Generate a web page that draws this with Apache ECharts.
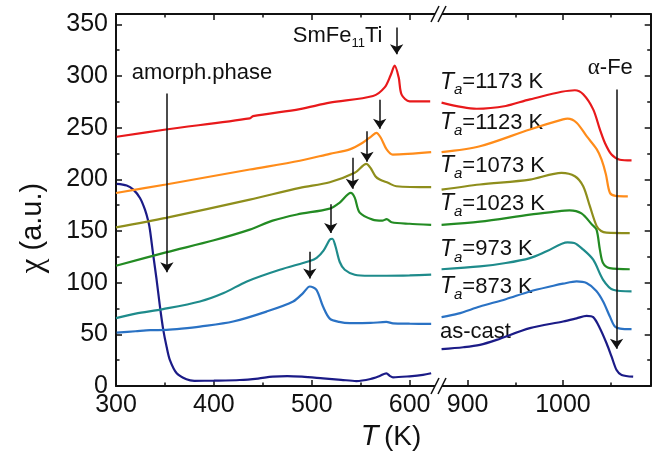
<!DOCTYPE html>
<html>
<head>
<meta charset="utf-8">
<script src="https://cdn.jsdelivr.net/npm/echarts@6/dist/echarts.min.js"></script>
<style>
  html, body { margin: 0; padding: 0; background: #fff; }
  #chart { width: 659px; height: 457px; }
</style>
</head>
<body>
<div id="chart"></div>
<script>
// Broken temperature axis: a low-T panel and a high-T panel (K)
const lowRange = [300, 630];
const highRange = [870, 1092];
const chiRange = [0, 360];

// Tick positions
const lowMajorTicks = [300, 400, 500, 600];
const lowMinorTicks = [350, 450, 550];
const highMajorTicks = [900, 1000];
const highMinorTicks = [950, 1050];
const chiMajorTicks = [0, 50, 100, 150, 200, 250, 300, 350];
const chiMinorTicks = [25, 75, 125, 175, 225, 275, 325];

// Susceptibility curves [T (K), chi (a.u.)], low-T and high-T parts
const asCastLow = [[300.7,195.6],[310.9,194],[317.7,190],[324.5,182],[329.6,170.7],[333,159.4],[334.7,151],[338,127],[341.5,102.8],[344.9,76.9],[348.3,54.3],[351.7,38],[355.1,25],[362,12.3],[372,6.5],[380,5],[400,5.2],[426.5,5.8],[445,7.2],[460,9],[475,9.6],[490,9],[511.5,7.4],[530,6],[545.6,4.8],[560,6.8],[569.4,9.7],[576.2,12.3],[580,9.6],[583,8.4],[600,9.4],[613.6,10.7],[622,12.3]];
const asCastHigh = [[872.7,35.6],[895.4,37.5],[912.9,39.8],[930.4,44.6],[965.3,56],[1000.2,62.4],[1014.3,65.5],[1024.7,67.9],[1031.7,66.6],[1038.7,56],[1045.7,41.4],[1051,28.4],[1056.2,15.5],[1061.5,10.7],[1073.6,9]];

const t873Low = [[300.7,51.7],[320,53],[335,54],[351.7,54.3],[367,55.5],[385.7,57.5],[419.7,62.4],[453.7,72],[481,81.8],[491.1,89.9],[498,96.3],[504.8,93.1],[511.5,76.9],[518.4,65.2],[528,62],[538.8,60.8],[560,61],[576.2,62],[583,60.6],[600,60.3],[622,60.1]];
const t873High = [[872.7,66.6],[890,70],[912.9,76.9],[940,84],[965.3,91.5],[990,97],[1000,99],[1014.3,101.2],[1024.7,99.6],[1035,92],[1042.1,81.8],[1049.2,67.2],[1054.4,57.5],[1060,55.5],[1071.9,55]];

const t973Low = [[300,65.7],[320,70],[348,74.4],[385.7,81.8],[410,90],[433.7,101.2],[467.3,112.5],[498,121],[505,124],[512,131],[518.4,141.6],[521,142.5],[524,136],[528.6,120],[533.7,112.5],[543.9,107.7],[559,106.7],[576.5,106.7],[600,107],[622,107.7]];
const t973High = [[872.7,113],[912.9,115.7],[940,119],[965.3,123.8],[982.8,130.3],[1004.8,139],[1011.8,138.4],[1020,133],[1031.7,122.2],[1042.1,102.8],[1052.6,93.1],[1071.9,91.5]];

const t1023Low = [[300,116.4],[351,129.3],[400,141],[436.7,151.3],[460,160],[485,166],[518.4,171.7],[528.6,177.5],[539.8,186.9],[543.9,182.3],[549,167.8],[562.2,161],[572,160],[576.5,161.5],[581.6,158.5],[600,157],[622,156]];
const t1023High = [[872.7,156],[912.9,159],[965.3,165.9],[990,168.5],[1006.9,170],[1019.4,167],[1030.6,156],[1035.2,151.3],[1038.7,132],[1042,119],[1049,114],[1070,113]];

const t1073Low = [[300,153.5],[351,162.7],[436.7,180.4],[487.8,191.8],[518.4,197.2],[543.9,206.3],[555.8,215],[560,211],[565,203],[569.4,199.8],[577.9,196.6],[586.4,193.3],[622,192.4]];
const t1073High = [[872.7,190],[912.9,195],[965.3,199.8],[998.5,206.3],[1012.5,203],[1021.2,193.3],[1028.2,174],[1035.2,155],[1040,150],[1045.6,148.4],[1070,148]];

const t1123Low = [[300,186.8],[351,195],[436.7,209.5],[487.8,218],[518.4,224.7],[538.8,229],[552,235.4],[561.2,241.8],[566,245],[570.4,240.5],[576.5,229],[582.7,224],[622,226.3]];
const t1123High = [[872.7,226.3],[912.9,232],[965.3,248.3],[1000,258],[1004.8,258.7],[1014.3,254.8],[1025,241.5],[1035.5,229],[1040.5,219],[1045,205],[1049.2,187],[1055,184],[1068,183.6]];

const t1173Low = [[300.7,241.2],[351,248.2],[436.7,259],[440,261.2],[487.8,268],[518.4,274.2],[562.6,280.6],[574.5,289],[580.6,300.7],[584.7,310],[588.8,298.7],[591.8,282],[600,275.5],[621,275.5]];
const t1173High = [[872.7,274.2],[909.4,268.3],[940,271],[965.3,277.4],[1012.5,286.2],[1021.2,282.3],[1031.7,267.7],[1038.7,248.3],[1043.9,235.4],[1050.9,224],[1059.6,219],[1071.9,218.3]];

const curveNames = ['as-cast', 'Ta=873 K', 'Ta=973 K', 'Ta=1023 K', 'Ta=1073 K', 'Ta=1123 K', 'Ta=1173 K'];
const curveColors = ['#1b1b87', '#2a72c4', '#1e8b8b', '#238b23', '#8e8e1c', '#ff8c1a', '#e8191b'];
const lowCurves = [asCastLow, t873Low, t973Low, t1023Low, t1073Low, t1123Low, t1173Low];
const highCurves = [asCastHigh, t873High, t973High, t1023High, t1073High, t1123High, t1173High];

// Arrows [T, chi start, chi end]
const lowArrows = [[586.7,347,321],[569.4,277,249],[556.4,246.5,217],[541.5,221,191],[519.4,176,148],[498,130,104],[352,283,110]];
const highArrows = [[1056.2,287,36]];

// Text notes: panel, [T, chi] of left/middle anchor, rich text
const notes = [
  { panel: 0, at: [316, 302.6], text: 'amorph.phase' },
  { panel: 0, at: [480.6, 338.5], text: 'SmFe{s|11}Ti' },
  { panel: 1, at: [1026, 307.5], text: '{g|α}-Fe' },
  { panel: 1, at: [871, 293.9], text: '{t|T}{a|a}=1173 K' },
  { panel: 1, at: [871, 254.8], text: '{t|T}{a|a}=1123 K' },
  { panel: 1, at: [871, 213.4], text: '{t|T}{a|a}=1073 K' },
  { panel: 1, at: [871, 176.5], text: '{t|T}{a|a}=1023 K' },
  { panel: 1, at: [871, 132.2], text: '{t|T}{a|a}=973 K' },
  { panel: 1, at: [871, 96], text: '{t|T}{a|a}=873 K' },
  { panel: 1, at: [871, 52.4], text: 'as-cast' }
];

const FONT = '"Liberation Sans", Arial, sans-serif';
const SERIF = '"Liberation Serif", "Times New Roman", serif';
const INK = '#111';

const chart = echarts.init(document.getElementById('chart'), null, { renderer: 'canvas' });

function axis(gridIndex, range, position, ticks, tickLen, opts) {
  const a = {
    type: 'value', gridIndex, position, min: range[0], max: range[1],
    axisLine: { show: !!opts.line, onZero: false, lineStyle: { color: INK, width: 2 } },
    axisTick: { show: true, inside: true, length: tickLen, customValues: ticks, lineStyle: { color: INK, width: 1.5 } },
    axisLabel: { show: false },
    splitLine: { show: false },
    minorTick: { show: false }
  };
  if (opts.labels) {
    a.axisLabel = {
      show: true, customValues: opts.labels, fontSize: 25, fontFamily: FONT, color: INK,
      margin: opts.margin, formatter: v => String(v)
    };
  }
  return a;
}

const xAxes = [
  axis(0, lowRange, 'bottom', lowMajorTicks, 6, { line: true, labels: lowMajorTicks, margin: 7 }),
  axis(0, lowRange, 'bottom', lowMinorTicks, 3.5, {}),
  axis(0, lowRange, 'top', lowMajorTicks, 6, { line: true }),
  axis(0, lowRange, 'top', lowMinorTicks, 3.5, {}),
  axis(1, highRange, 'bottom', highMajorTicks, 6, { line: true, labels: highMajorTicks, margin: 7 }),
  axis(1, highRange, 'bottom', highMinorTicks, 3.5, {}),
  axis(1, highRange, 'top', highMajorTicks, 6, { line: true }),
  axis(1, highRange, 'top', highMinorTicks, 3.5, {})
];
const yAxes = [
  axis(0, chiRange, 'left', chiMajorTicks, 6, { line: true, labels: chiMajorTicks, margin: 8 }),
  axis(0, chiRange, 'left', chiMinorTicks, 3.5, {}),
  axis(1, chiRange, 'right', chiMajorTicks, 6, { line: true }),
  axis(1, chiRange, 'right', chiMinorTicks, 3.5, {})
];

function arrowLines(list) {
  return {
    silent: true, animation: false,
    symbol: ['none', 'arrow'], symbolSize: 10,
    lineStyle: { color: INK, width: 1.5, type: 'solid' },
    label: { show: false },
    emphasis: { disabled: true },
    data: list.map(a => [{ coord: [a[0], a[1]] }, { coord: [a[0], a[2]] }])
  };
}

const series = [];
lowCurves.forEach((d, i) => {
  series.push({
    name: curveNames[i], type: 'line', xAxisIndex: 0, yAxisIndex: 0, data: d,
    showSymbol: false, smooth: 0.3, lineStyle: { color: curveColors[i], width: 2.2 },
    itemStyle: { color: curveColors[i] }, silent: true,
    markLine: i === 0 ? arrowLines(lowArrows) : undefined
  });
});
highCurves.forEach((d, i) => {
  series.push({
    name: curveNames[i], type: 'line', xAxisIndex: 4, yAxisIndex: 2, data: d,
    showSymbol: false, smooth: 0.3, lineStyle: { color: curveColors[i], width: 2.2 },
    itemStyle: { color: curveColors[i] }, silent: true,
    markLine: i === 0 ? arrowLines(highArrows) : undefined
  });
});

chart.setOption({
  animation: false,
  backgroundColor: '#fff',
  grid: [
    { left: 116, top: 14, width: 323, height: 372, outerBoundsMode: 'none' },
    { left: 439, top: 14, width: 211.7, height: 372, outerBoundsMode: 'none' }
  ],
  xAxis: xAxes,
  yAxis: yAxes,
  series
});

// Text annotations placed in data space of each panel
const richStyles = {
  t: { fontStyle: 'italic', fontSize: 23, fontFamily: FONT, color: INK },
  a: { fontStyle: 'italic', fontSize: 15, fontFamily: FONT, color: INK, padding: [16, 0, 0, 0] },
  s: { fontSize: 13, fontFamily: FONT, color: INK, padding: [14, 0, 0, 0] },
  g: { fontSize: 23, fontFamily: SERIF, color: INK }
};
const panelAxes = [{ xAxisIndex: 0, yAxisIndex: 0 }, { xAxisIndex: 4, yAxisIndex: 2 }];

const graphics = notes.map(n => {
  const p = chart.convertToPixel(panelAxes[n.panel], n.at);
  return {
    type: 'text', x: p[0], y: p[1], silent: true,
    style: {
      text: n.text, rich: richStyles, fontSize: 22, fontFamily: FONT, fill: INK,
      align: 'left', verticalAlign: 'middle', textAlign: 'left', textVerticalAlign: 'middle'
    }
  };
});

// Axis titles
graphics.push({
  type: 'text', x: 33, y: 228, rotation: Math.PI / 2, silent: true,
  style: {
    text: '{g|χ} (a.u.)', fontSize: 29, fontFamily: FONT, fill: INK,
    rich: { g: { fontSize: 33, fontFamily: SERIF, color: INK } },
    align: 'center', verticalAlign: 'middle', textAlign: 'center', textVerticalAlign: 'middle'
  }
});
graphics.push({
  type: 'text', x: 391, y: 437, silent: true,
  style: {
    text: '{t|T}\u2009(K)', fontSize: 28, fontFamily: FONT, fill: INK,
    rich: { t: { fontStyle: 'italic', fontSize: 29, fontFamily: FONT, color: INK } },
    align: 'center', verticalAlign: 'middle', textAlign: 'center', textVerticalAlign: 'middle'
  }
});

// Axis break marks on the top and bottom frame lines
const breakX = 439;
[14, 386].forEach(yLine => {
  graphics.push({ type: 'rect', silent: true, shape: { x: breakX - 4, y: yLine - 3, width: 7, height: 6 }, style: { fill: '#fff' }, z: 100 });
  [-4, 3].forEach(dx => {
    graphics.push({
      type: 'line', silent: true, z: 101,
      shape: { x1: breakX + dx - 4, y1: yLine + 8, x2: breakX + dx + 4, y2: yLine - 8 },
      style: { stroke: INK, lineWidth: 1.6 }
    });
  });
});

chart.setOption({ graphic: graphics });
</script>
</body>
</html>
